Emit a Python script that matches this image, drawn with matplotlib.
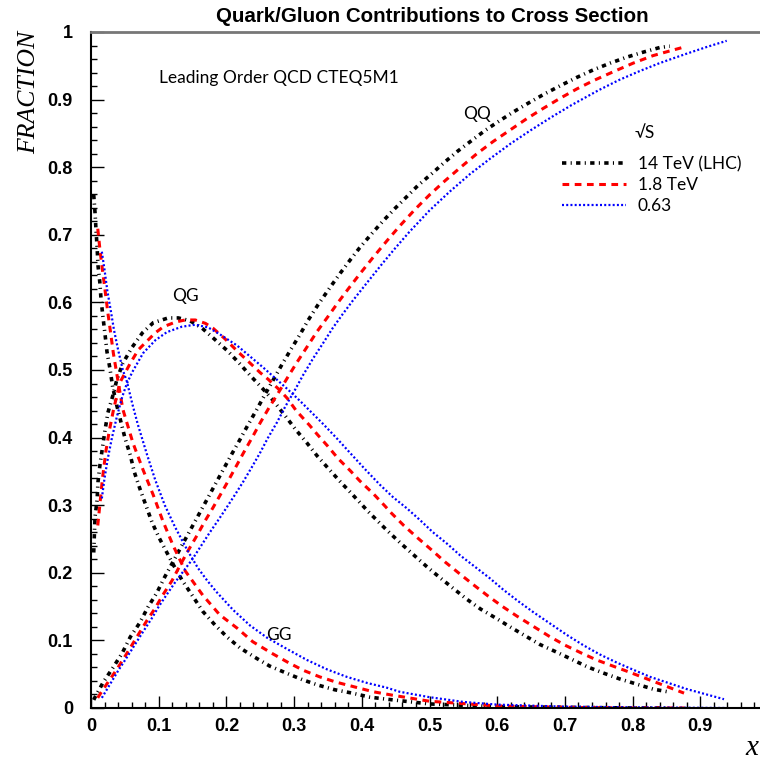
import matplotlib
matplotlib.use("Agg")
import matplotlib.pyplot as plt
from matplotlib.lines import Line2D
from matplotlib.ticker import MultipleLocator, FixedLocator

# ---- data ------------------------------------------------------------------
# GG fraction
gg14_x = [0.004, 0.006, 0.0074, 0.009, 0.0103, 0.013, 0.0148, 0.0177, 0.0207, 0.0236, 0.028,
          0.032, 0.038, 0.05, 0.058, 0.064, 0.072, 0.081, 0.09, 0.10, 0.111, 0.121, 0.134,
          0.165, 0.183, 0.201, 0.22, 0.242, 0.264, 0.29, 0.312, 0.335, 0.36, 0.386, 0.412,
          0.437, 0.5, 0.6, 0.7, 0.8, 0.855]
gg14_y = [0.759, 0.732, 0.707, 0.682, 0.655, 0.63, 0.605, 0.578, 0.553, 0.527, 0.502,
          0.475, 0.448, 0.40, 0.374, 0.349, 0.325, 0.30, 0.275, 0.253, 0.232, 0.213, 0.19,
          0.143, 0.123, 0.105, 0.089, 0.075, 0.062, 0.051, 0.042, 0.034, 0.027, 0.022, 0.016,
          0.013, 0.006, 0.002, 0.001, 0.0, 0.0]

gg18_x = [0.010, 0.013, 0.016, 0.019, 0.022, 0.025, 0.029, 0.033, 0.038, 0.047, 0.062, 0.077,
          0.092, 0.106, 0.121, 0.139, 0.165, 0.19, 0.216, 0.239, 0.267, 0.29, 0.313, 0.338,
          0.363, 0.39, 0.417, 0.445, 0.5, 0.6, 0.7, 0.8, 0.877]
gg18_y = [0.709, 0.68, 0.655, 0.632, 0.608, 0.584, 0.555, 0.525, 0.495, 0.442, 0.392, 0.352,
          0.315, 0.277, 0.241, 0.203, 0.167, 0.138, 0.118, 0.098, 0.081, 0.068, 0.056, 0.046,
          0.038, 0.031, 0.024, 0.019, 0.01, 0.003, 0.001, 0.0, 0.0]

gg063_x = [0.016, 0.02, 0.024, 0.029, 0.034, 0.04, 0.047, 0.053, 0.061, 0.069, 0.083, 0.095,
           0.109, 0.124, 0.142, 0.158, 0.172, 0.186, 0.21, 0.235, 0.26, 0.29, 0.319, 0.349,
           0.378, 0.408, 0.437, 0.456, 0.5, 0.55, 0.6, 0.7, 0.8, 0.939]
gg063_y = [0.675, 0.648, 0.618, 0.589, 0.559, 0.53, 0.5, 0.483, 0.45, 0.42, 0.374, 0.337,
           0.30, 0.268, 0.234, 0.207, 0.188, 0.171, 0.145, 0.122, 0.104, 0.087, 0.071, 0.057,
           0.046, 0.037, 0.03, 0.024, 0.016, 0.009, 0.005, 0.002, 0.001, 0.0]

# QG fraction
qg14_x = [0.004, 0.006, 0.009, 0.0103, 0.0133, 0.0207, 0.025, 0.0325, 0.038, 0.047, 0.061,
          0.076, 0.092, 0.114, 0.129, 0.146, 0.164, 0.182, 0.202, 0.219, 0.236, 0.254, 0.269,
          0.287, 0.303, 0.319, 0.334, 0.35, 0.368, 0.386, 0.41, 0.437, 0.456, 0.476, 0.495,
          0.514, 0.535, 0.555, 0.576, 0.598, 0.619, 0.641, 0.663, 0.687, 0.71, 0.733, 0.756,
          0.781, 0.83, 0.852]
qg14_y = [0.23, 0.283, 0.308, 0.334, 0.36, 0.411, 0.437, 0.463, 0.485, 0.51, 0.534,
          0.555, 0.57, 0.577, 0.577, 0.573, 0.562, 0.546, 0.528, 0.51, 0.491, 0.472, 0.455,
          0.432, 0.411, 0.392, 0.373, 0.355, 0.335, 0.316, 0.29, 0.263, 0.245, 0.227, 0.21,
          0.194, 0.177, 0.161, 0.146, 0.133, 0.12, 0.107, 0.094, 0.083, 0.072, 0.061, 0.052,
          0.043, 0.028, 0.024]

qg18_x = [0.010, 0.013, 0.017, 0.022, 0.027, 0.033, 0.04, 0.043, 0.058, 0.07, 0.083, 0.095,
          0.107, 0.125, 0.139, 0.154, 0.169, 0.18, 0.198, 0.216, 0.232, 0.25, 0.262, 0.279,
          0.29, 0.303, 0.323, 0.334, 0.35, 0.365, 0.383, 0.397, 0.417, 0.434, 0.444, 0.462,
          0.482, 0.504, 0.523, 0.544, 0.564, 0.586, 0.608, 0.629, 0.653, 0.677, 0.70, 0.725,
          0.747, 0.771, 0.79, 0.811, 0.876]
qg18_y = [0.27, 0.30, 0.34, 0.38, 0.41, 0.44, 0.47, 0.482, 0.51, 0.53, 0.543, 0.555,
          0.564, 0.571, 0.574, 0.574, 0.569, 0.562, 0.546, 0.528, 0.513, 0.496, 0.486, 0.47,
          0.458, 0.44, 0.418, 0.405, 0.387, 0.369, 0.351, 0.336, 0.317, 0.299, 0.288, 0.27,
          0.252, 0.233, 0.216, 0.199, 0.183, 0.166, 0.15, 0.136, 0.121, 0.106, 0.093, 0.081,
          0.071, 0.062, 0.055, 0.047, 0.022]

qg063_x = [0.016, 0.02, 0.025, 0.031, 0.038, 0.046, 0.053, 0.061, 0.077, 0.095, 0.112, 0.134,
           0.154, 0.173, 0.19, 0.216, 0.235, 0.254, 0.272, 0.291, 0.309, 0.323, 0.343, 0.363,
           0.383, 0.405, 0.427, 0.446, 0.467, 0.486, 0.505, 0.526, 0.545, 0.567, 0.589, 0.609,
           0.631, 0.653, 0.678, 0.703, 0.727, 0.752, 0.777, 0.80, 0.826, 0.88, 0.935]
qg063_y = [0.31, 0.34, 0.37, 0.40, 0.43, 0.46, 0.48, 0.497, 0.525, 0.544, 0.556, 0.564,
           0.567, 0.563, 0.553, 0.536, 0.52, 0.504, 0.488, 0.471, 0.454, 0.44, 0.42, 0.399,
           0.377, 0.353, 0.33, 0.312, 0.295, 0.278, 0.26, 0.243, 0.226, 0.209, 0.192, 0.175,
           0.158, 0.142, 0.125, 0.108, 0.093, 0.079, 0.067, 0.057, 0.046, 0.028, 0.013]

# QQ fraction
qq14_x = [0.004, 0.006, 0.018, 0.032, 0.046, 0.058, 0.072, 0.084, 0.097, 0.109, 0.121, 0.134,
          0.146, 0.158, 0.17, 0.183, 0.195, 0.207, 0.22, 0.232, 0.244, 0.256, 0.269, 0.282,
          0.295, 0.309, 0.321, 0.335, 0.353, 0.368, 0.383, 0.397, 0.415, 0.431, 0.449, 0.467,
          0.483, 0.504, 0.523, 0.542, 0.563, 0.583, 0.604, 0.626, 0.648, 0.671, 0.696, 0.718,
          0.742, 0.767, 0.792, 0.815, 0.84, 0.855]
qq14_y = [0.012, 0.016, 0.038, 0.059, 0.081, 0.105, 0.126, 0.149, 0.17, 0.194, 0.216, 0.24,
          0.262, 0.284, 0.306, 0.33, 0.352, 0.374, 0.397, 0.419, 0.44, 0.462, 0.485, 0.508,
          0.53, 0.553, 0.574, 0.596, 0.622, 0.643, 0.663, 0.681, 0.702, 0.72, 0.739, 0.757,
          0.773, 0.791, 0.808, 0.824, 0.84, 0.855, 0.869, 0.883, 0.896, 0.909, 0.922, 0.933,
          0.944, 0.954, 0.963, 0.97, 0.977, 0.979]

qq18_x = [0.01, 0.013, 0.025, 0.038, 0.05, 0.061, 0.072, 0.083, 0.095, 0.106, 0.12, 0.131,
          0.143, 0.157, 0.168, 0.18, 0.188, 0.201, 0.213, 0.225, 0.238, 0.25, 0.264, 0.279,
          0.291, 0.304, 0.319, 0.334, 0.35, 0.365, 0.38, 0.397, 0.417, 0.437, 0.456, 0.479,
          0.501, 0.523, 0.545, 0.57, 0.594, 0.619, 0.644, 0.668, 0.693, 0.718, 0.742, 0.771,
          0.801, 0.83, 0.855, 0.877]
qq18_y = [0.015, 0.02, 0.038, 0.057, 0.076, 0.094, 0.112, 0.13, 0.148, 0.167, 0.189, 0.21,
          0.232, 0.256, 0.276, 0.296, 0.31, 0.333, 0.355, 0.377, 0.4, 0.422, 0.446, 0.47,
          0.49, 0.511, 0.534, 0.557, 0.579, 0.6, 0.62, 0.642, 0.667, 0.691, 0.713, 0.738,
          0.76, 0.78, 0.799, 0.82, 0.838, 0.855, 0.872, 0.887, 0.902, 0.916, 0.928, 0.941,
          0.954, 0.965, 0.972, 0.978]

qq063_x = [0.016, 0.028, 0.04, 0.053, 0.065, 0.077, 0.09, 0.10, 0.112, 0.125, 0.137, 0.149,
           0.162, 0.175, 0.188, 0.20, 0.213, 0.225, 0.238, 0.25, 0.261, 0.275, 0.287, 0.301,
           0.313, 0.328, 0.343, 0.357, 0.372, 0.387, 0.41, 0.43, 0.45, 0.47, 0.50, 0.53, 0.56,
           0.59, 0.62, 0.65, 0.68, 0.71, 0.75, 0.78, 0.81, 0.84, 0.877, 0.91, 0.939]
qq063_y = [0.015, 0.035, 0.055, 0.075, 0.094, 0.113, 0.133, 0.15, 0.168, 0.187, 0.203, 0.219,
           0.239, 0.259, 0.278, 0.296, 0.316, 0.335, 0.357, 0.378, 0.399, 0.423, 0.446, 0.47,
           0.492, 0.517, 0.54, 0.562, 0.583, 0.603, 0.632, 0.657, 0.681, 0.704, 0.736, 0.764,
           0.79, 0.813, 0.835, 0.855, 0.874, 0.892, 0.914, 0.929, 0.942, 0.954, 0.967, 0.978,
           0.987]

energies = ["14 TeV (LHC)", "1.8 TeV", "0.63"]
yticks = [0, 0.1, 0.2, 0.3, 0.4, 0.5, 0.6, 0.7, 0.8, 0.9, 1]
ytick_labels = ["0", "0.1", "0.2", "0.3", "0.4", "0.5", "0.6", "0.7", "0.8", "0.9", "1"]
xticks = [0, 0.1, 0.2, 0.3, 0.4, 0.5, 0.6, 0.7, 0.8, 0.9]
xtick_labels = ["0", "0.1", "0.2", "0.3", "0.4", "0.5", "0.6", "0.7", "0.8", "0.9"]

# ---- styles -----------------------------------------------------------------
styles = [
    dict(color="black", lw=2.6, dashes=(1.2, 1.2, 0.3, 1.2)),
    dict(color="#ff0000", lw=2.2, dashes=(2.2, 1.8)),
    dict(color="#0000ff", lw=1.6, dashes=(0.9, 1.0)),
]

fig = plt.figure(figsize=(7.6, 7.68), dpi=100)
ax = fig.add_axes([91 / 760, 60 / 768, 677 / 760, 676 / 768])

curves = [
    (gg14_x, gg14_y, qg14_x, qg14_y, qq14_x, qq14_y),
    (gg18_x, gg18_y, qg18_x, qg18_y, qq18_x, qq18_y),
    (gg063_x, gg063_y, qg063_x, qg063_y, qq063_x, qq063_y),
]
for (gx, gy, qgx, qgy, qqx, qqy), st in zip(curves, styles):
    for xs, ys in [(gx, gy), (qgx, qgy), (qqx, qqy)]:
        ax.plot(xs, ys, color=st["color"], lw=st["lw"], dashes=st["dashes"],
                dash_capstyle="butt")

ax.set_xlim(0, 1)
ax.set_ylim(0, 1)

ax.xaxis.set_major_locator(FixedLocator(xticks))
ax.xaxis.set_minor_locator(MultipleLocator(0.02))
ax.yaxis.set_major_locator(FixedLocator(yticks))
ax.yaxis.set_minor_locator(MultipleLocator(0.02))
ax.set_xticklabels(xtick_labels)
ax.set_yticklabels(ytick_labels)

ax.tick_params(which="both", direction="in", top=False, right=False, width=1)
ax.tick_params(which="major", length=9)
ax.tick_params(which="minor", length=4.5)
ax.tick_params(axis="x", pad=7)
ax.tick_params(axis="y", pad=13)
for lab in ax.get_xticklabels() + ax.get_yticklabels():
    lab.set_fontfamily("Liberation Sans")
    lab.set_fontweight("bold")
    lab.set_fontsize(13)

ax.spines["left"].set_linewidth(1.5)
ax.spines["bottom"].set_linewidth(1.5)
ax.spines["top"].set_linewidth(2)
ax.spines["top"].set_color("#777777")
ax.spines["right"].set_visible(False)

fig.text(432 / 760, 1 - 17 / 768, "Quark/Gluon Contributions to Cross Section",
         ha="center", va="center", fontsize=14.8, fontweight="bold",
         family="Liberation Sans")
fig.text(29 / 760, 1 - 92 / 768, "FRACTION", rotation=90, ha="center", va="center",
         fontsize=18.5, style="italic", family="Liberation Serif")
fig.text(752 / 760, 1 - 748 / 768, "x", ha="center", va="center",
         fontsize=21, style="italic", family="Liberation Serif")

thin = dict(family=["Lato", "DejaVu Sans"], fontweight="normal", fontsize=12.5, color="black")
ax.text(0.1, 0.932, "Leading Order QCD CTEQ5M1", ha="left", va="center", **thin)
ax.text(0.57, 0.879, "QQ", ha="center", va="center", **thin)
ax.text(0.139, 0.61, "QG", ha="center", va="center", **thin)
ax.text(0.278, 0.108, "GG", ha="center", va="center", **thin)
ax.text(0.803, 0.85, "√S", ha="left", va="center", **thin)

handles = [Line2D([], [], color=st["color"], lw=st["lw"], dashes=st["dashes"]) for st in styles]
leg = ax.legend(handles, energies, loc="upper left", bbox_to_anchor=(0.695, 0.816),
                frameon=False, handlelength=3.7, handletextpad=0.7, labelspacing=0.27,
                borderaxespad=0, borderpad=0,
                prop=dict(family=["Lato", "DejaVu Sans"], size=12.5))

fig.savefig("out.png", dpi=100)
